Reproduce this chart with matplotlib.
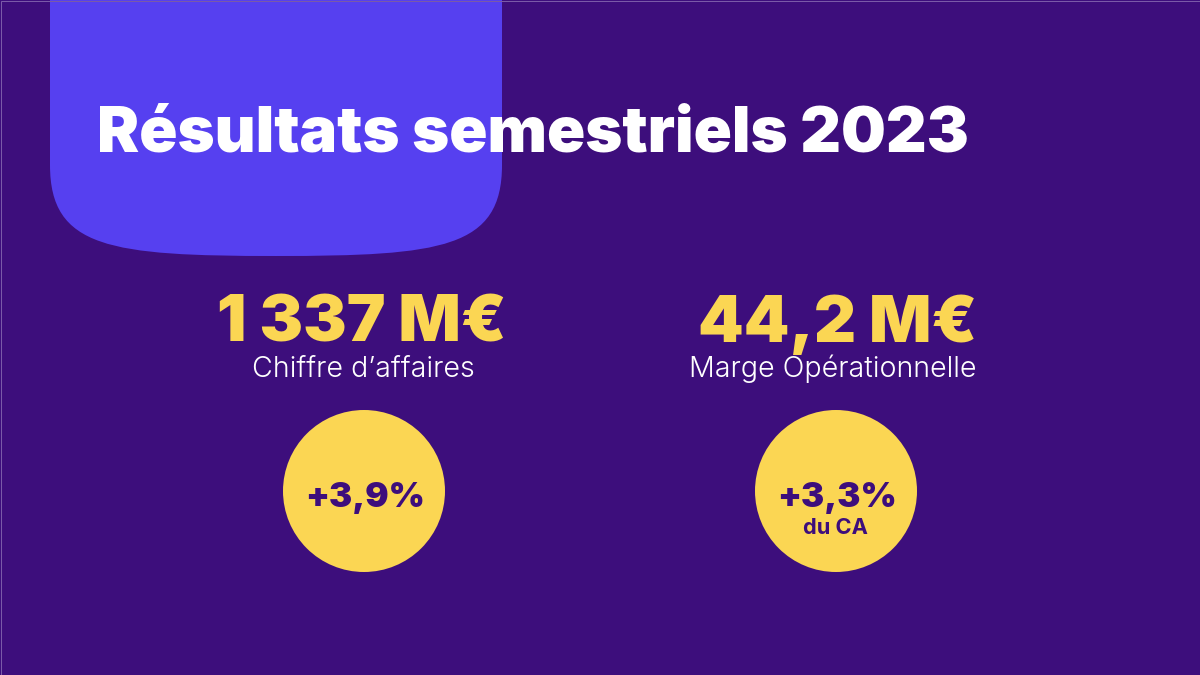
# -*- coding: utf-8 -*-
import matplotlib
matplotlib.use('Agg')
import matplotlib.pyplot as plt
from matplotlib.path import Path
from matplotlib.patches import PathPatch, Circle, Rectangle

# Slide content
title = 'Résultats semestriels 2023'
kpi_values = ['1 337 M€', '44,2 M€']
kpi_labels = ['Chiffre d’affaires', 'Marge Opérationnelle']
kpi_changes = ['+3,9%', '+3,3%']
kpi_notes = ['', 'du CA']

bg = '#3D0E7C'
blue = '#5640F0'
yellow = '#FBD653'

fig = plt.figure(figsize=(12, 6.75), dpi=100, facecolor=bg)
ax = fig.add_axes([0, 0, 1, 1])
ax.set_xlim(0, 1200)
ax.set_ylim(675, 0)
ax.axis('off')

# rounded block at the top, squircle-like corners
verts = [(50, 0), (50, 165),
         (50, 248), (110, 256), (276, 256),
         (442, 256), (502, 248), (502, 165),
         (502, 0), (50, 0)]
codes = [Path.MOVETO, Path.LINETO,
         Path.CURVE4, Path.CURVE4, Path.CURVE4,
         Path.CURVE4, Path.CURVE4, Path.CURVE4,
         Path.LINETO, Path.CLOSEPOLY]
ax.add_patch(PathPatch(Path(verts, codes), fc=blue, ec='none'))

# faint frame around the slide
ax.add_patch(Rectangle((0.5, 0.5), 1199, 674, fc='none', ec='#7A5AA8', lw=0.72))

ax.text(97, 152, title, color='white', fontsize=45.5, family='Inter',
        fontweight=900, ha='left', va='baseline')

# KPI blocks
value_x = [362, 838]
label_x = [363.5, 832.5]
circle_x = [364, 836]
for i in range(2):
    ax.text(value_x[i], 342, kpi_values[i], color=yellow, fontsize=47, family='Inter',
            fontweight=900, ha='center', va='baseline')
    ax.text(label_x[i], 377, kpi_labels[i], color='white', fontsize=20.6, family='Inter',
            fontweight=300, ha='center', va='baseline')
    ax.add_patch(Circle((circle_x[i], 491), 81, fc=yellow, ec='none'))
    ax.text(circle_x[i] + 1, 507, kpi_changes[i], color=bg, fontsize=25, family='Inter',
            fontweight=900, ha='center', va='baseline')
    if kpi_notes[i]:
        ax.text(circle_x[i] - 1, 534, kpi_notes[i], color=bg, fontsize=15.7, family='Inter',
                fontweight=700, ha='center', va='baseline')

fig.savefig('out.png', dpi=100, facecolor=bg)
